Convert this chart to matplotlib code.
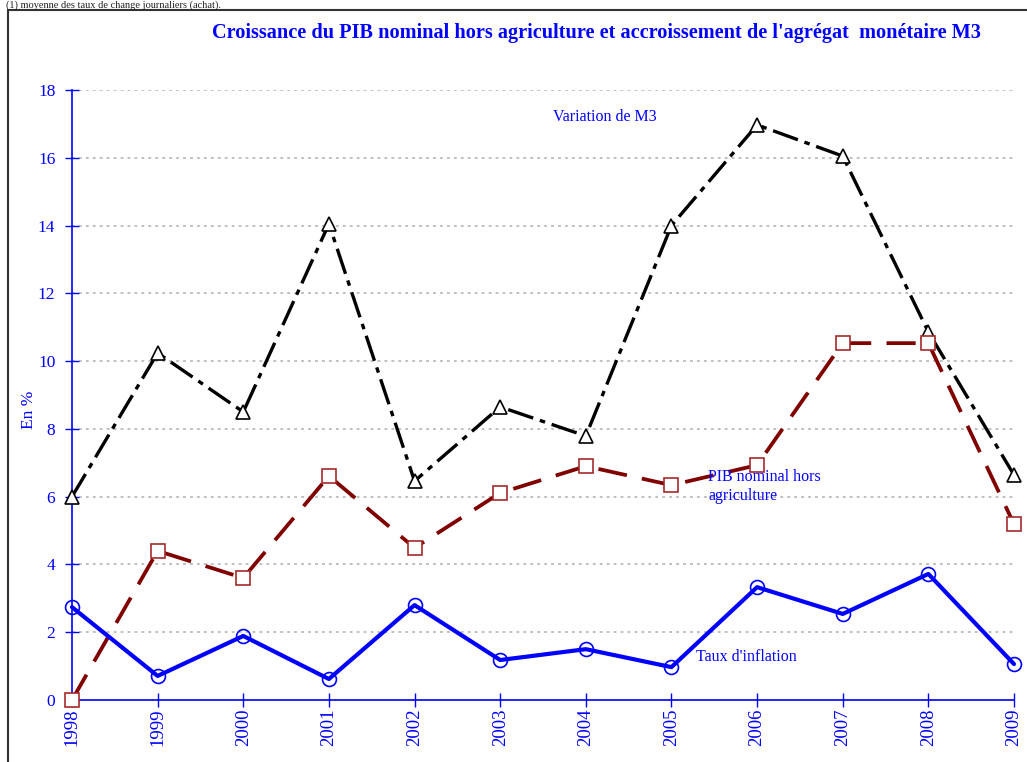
import matplotlib
matplotlib.use("Agg")
import matplotlib.pyplot as plt
from matplotlib.patches import Rectangle

years = [1998, 1999, 2000, 2001, 2002, 2003, 2004, 2005, 2006, 2007, 2008, 2009]
m3 = [6.0, 10.24, 8.5, 14.05, 6.46, 8.65, 7.79, 14.0, 16.97, 16.05, 10.86, 6.64]
pib = [0.0, 4.4, 3.6, 6.61, 4.49, 6.11, 6.9, 6.34, 6.93, 10.53, 10.53, 5.19]
inflation = [2.74, 0.71, 1.89, 0.62, 2.8, 1.18, 1.5, 0.97, 3.33, 2.54, 3.72, 1.06]
yticks = [0, 2, 4, 6, 8, 10, 12, 14, 16, 18]

plt.rcParams['font.family'] = ['Liberation Serif', 'DejaVu Serif']
plt.rcParams['lines.scale_dashes'] = False

W, H = 1027, 762
fig = plt.figure(figsize=(W / 100, H / 100), dpi=100)
ax = fig.add_axes([72 / W, 1 - 700 / H, (1014 - 72) / W, (700 - 90) / H])

blue = '#0000ff'

ax.plot(years, m3, color='black', lw=2.4, dashes=(19, 5, 4, 5),
        marker='^', ms=10, mfc='white', mec='black', mew=1.2, clip_on=False, zorder=3)
ax.plot(years, pib, color='#800000', lw=2.7, dashes=(21, 11),
        marker='s', ms=9.5, mfc='white', mec='#a52a2a', mew=1.2, clip_on=False, zorder=3)
ax.plot(years, inflation, color=blue, lw=3.0, solid_capstyle='round',
        marker='o', ms=10, mfc='none', mec=blue, mew=1.2, clip_on=False, zorder=4)

ax.set_xlim(1998, 2009)
ax.set_ylim(0, 18)
ax.set_xticks(years)
ax.set_xticklabels([str(y) for y in years], rotation=90, color=blue, fontsize=13.5)
ax.set_yticks(yticks)
ax.set_yticklabels([str(v) for v in yticks], color=blue, fontsize=12.5)
ax.tick_params(axis='both', direction='inout', length=10, color=blue, width=1)
ax.tick_params(axis='x', pad=1)
ax.tick_params(axis='y', pad=7)

for s in ['top', 'right']:
    ax.spines[s].set_visible(False)
for s in ['left', 'bottom']:
    ax.spines[s].set_color(blue)
    ax.spines[s].set_linewidth(1.2)

for v in yticks[1:]:
    ax.axhline(v, color='#b4b4b4', lw=1.2, linestyle=(0, (2, 3)), zorder=1)

ax.set_ylabel('En %', color=blue, fontsize=12.5)
ax.yaxis.set_label_coords(-0.037, 0.475)
ax.set_facecolor('none')

ax.text(2003.62, 17.2, 'Variation de M3', color=blue, fontsize=11.5, ha='left', va='center')
ax.text(2005.43, 6.3, 'PIB nominal hors\nagriculture', color=blue, fontsize=11.5,
        ha='left', va='center', linespacing=1.25)
ax.text(2005.29, 1.28, "Taux d'inflation", color=blue, fontsize=11.5, ha='left', va='center')

fig.text(597 / W, 1 - 33 / H,
         "Croissance du PIB nominal hors agriculture et accroissement de l'agrégat  monétaire M3",
         color=blue, fontsize=14.6, fontweight='bold', ha='center', va='center')

fig.text(6 / W, 1 - 5 / H, '(1) moyenne des taux de change journaliers (achat).',
         color='#222222', fontsize=7.5, ha='left', va='center')

fig.patches.append(Rectangle((8 / W, -0.05), 1.2, 1 - 10 / H + 0.05, transform=fig.transFigure,
                             fill=False, edgecolor='#333333', lw=1.5, zorder=0))

fig.savefig('out.png', dpi=100)
